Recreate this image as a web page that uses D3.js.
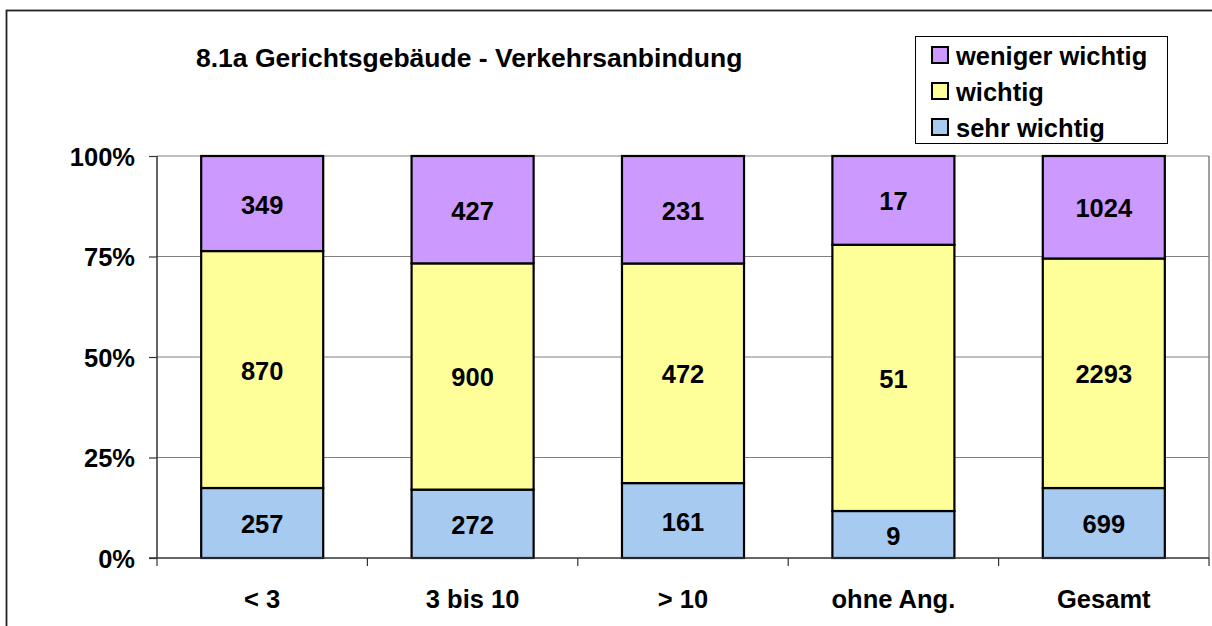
<!DOCTYPE html>
<html>
<head>
<meta charset="utf-8">
<script src="https://cdn.jsdelivr.net/npm/d3@7"></script>
<style>
  html, body { margin: 0; padding: 0; background: #fff; }
  svg { display: block; font-family: "Liberation Sans", Arial, sans-serif; font-weight: bold; }
</style>
</head>
<body>
<svg id="chart" width="1212" height="626"></svg>
<script>
// Categories (years of experience) and counts per answer
const categories = ["< 3", "3 bis 10", "> 10", "ohne Ang.", "Gesamt"];
const sehrWichtig = [257, 272, 161, 9, 699];
const wichtig = [870, 900, 472, 51, 2293];
const wenigerWichtig = [349, 427, 231, 17, 1024];
const yTicks = [0, 0.25, 0.5, 0.75, 1];
const title = "8.1a Gerichtsgebäude - Verkehrsanbindung";

const seriesDefs = [
  { key: "sehr wichtig", values: sehrWichtig, color: "#A6CAF0" },
  { key: "wichtig", values: wichtig, color: "#FFFF99" },
  { key: "weniger wichtig", values: wenigerWichtig, color: "#CC99FF" }
];

const FS = 25.5;
const svg = d3.select("#chart");
const W = 1212, H = 626;
const plot = { left: 157, right: 1209, top: 156, bottom: 558 };

// outer chart frame (extends past the right and bottom edges)
svg.append("rect")
  .attr("x", 6.5).attr("y", 10.5)
  .attr("width", W + 20).attr("height", H + 20)
  .attr("fill", "#fff").attr("stroke", "#222").attr("stroke-width", 1.8);

const x = d3.scaleBand().domain(categories).range([plot.left, plot.right]).paddingInner(0.42).paddingOuter(0.21);
const xOuter = d3.scaleBand().domain(categories).range([plot.left, plot.right]);
const y = d3.scaleLinear().domain([0, 1]).range([plot.bottom, plot.top]);

// stacked shares per category
const table = categories.map((c, i) => {
  const row = { cat: c };
  seriesDefs.forEach(s => row[s.key] = s.values[i]);
  row.total = d3.sum(seriesDefs, s => s.values[i]);
  return row;
});
const stack = d3.stack()
  .keys(seriesDefs.map(s => s.key))
  .value((d, k) => d[k] / d.total);
const stacked = stack(table);

// gridlines
svg.append("g").selectAll("line").data(yTicks.filter(t => t > 0)).join("line")
  .attr("x1", plot.left).attr("x2", plot.right)
  .attr("y1", d => y(d)).attr("y2", d => y(d))
  .attr("stroke", "#808080").attr("stroke-width", 1.2);

// plot area right border
svg.append("line")
  .attr("x1", plot.right).attr("x2", plot.right)
  .attr("y1", plot.top).attr("y2", plot.bottom)
  .attr("stroke", "#808080").attr("stroke-width", 1.5);

// bars
const groups = svg.append("g").selectAll("g").data(stacked).join("g")
  .attr("fill", (d, i) => seriesDefs[i].color);
groups.selectAll("rect").data(d => d).join("rect")
  .attr("x", d => x(d.data.cat))
  .attr("width", x.bandwidth())
  .attr("y", d => y(d[1]))
  .attr("height", d => y(d[0]) - y(d[1]))
  .attr("stroke", "#000").attr("stroke-width", 2.2);

// value labels
groups.selectAll("text").data((d) => d.map(v => ({ v, key: d.key }))).join("text")
  .attr("x", d => x(d.v.data.cat) + x.bandwidth() / 2)
  .attr("y", d => (y(d.v[0]) + y(d.v[1])) / 2 + 1)
  .attr("text-anchor", "middle").attr("dominant-baseline", "central")
  .attr("font-size", FS).attr("fill", "#000")
  .text(d => d.v.data[d.key]);

// y axis
const yAxis = d3.axisLeft(y).tickValues(yTicks).tickFormat(d3.format(".0%")).tickSize(8).tickPadding(14);
const gy = svg.append("g").attr("transform", `translate(${plot.left},0)`).call(yAxis);
gy.select(".domain").attr("stroke", "#333").attr("stroke-width", 1.5).attr("d", `M-0,${plot.bottom}V${plot.top}`);
gy.selectAll(".tick line").attr("stroke", "#333").attr("stroke-width", 1.2);
gy.selectAll("text").attr("font-size", FS).attr("font-weight", "bold").attr("fill", "#000")
  .attr("font-family", "Liberation Sans, Arial, sans-serif").attr("dy", "0.36em");

// x axis with ticks between categories
const xAxisG = svg.append("g");
xAxisG.append("line")
  .attr("x1", plot.left - 8).attr("x2", plot.right)
  .attr("y1", plot.bottom).attr("y2", plot.bottom)
  .attr("stroke", "#333").attr("stroke-width", 1.5);
const edges = categories.map(c => xOuter(c)).concat([plot.right]);
xAxisG.selectAll("line.t").data(edges).join("line").attr("class", "t")
  .attr("x1", d => d).attr("x2", d => d)
  .attr("y1", plot.bottom).attr("y2", plot.bottom + 8)
  .attr("stroke", "#333").attr("stroke-width", 1.2);
xAxisG.selectAll("text").data(categories).join("text")
  .attr("x", d => xOuter(d) + xOuter.bandwidth() / 2)
  .attr("y", 599)
  .attr("text-anchor", "middle").attr("dominant-baseline", "central")
  .attr("font-size", FS).attr("fill", "#000")
  .text(d => d);

// title
svg.append("text")
  .attr("x", 196).attr("y", 58)
  .attr("dominant-baseline", "central")
  .attr("font-size", 26.5).attr("fill", "#000")
  .text(title);

// legend
const legend = svg.append("g");
legend.append("rect")
  .attr("x", 915.5).attr("y", 36.5).attr("width", 252).attr("height", 107)
  .attr("fill", "#fff").attr("stroke", "#000").attr("stroke-width", 1);
const legendItems = seriesDefs.slice().reverse();
const ly = d3.scalePoint().domain(legendItems.map(d => d.key)).range([55, 127]);
legend.selectAll("rect.sw").data(legendItems).join("rect").attr("class", "sw")
  .attr("x", 932).attr("y", d => ly(d.key) - 8)
  .attr("width", 16).attr("height", 16)
  .attr("fill", d => d.color).attr("stroke", "#000").attr("stroke-width", 2);
legend.selectAll("text").data(legendItems).join("text")
  .attr("x", 956).attr("y", d => ly(d.key) + 1)
  .attr("dominant-baseline", "central")
  .attr("font-size", FS).attr("fill", "#000")
  .text(d => d.key);
</script>
</body>
</html>
